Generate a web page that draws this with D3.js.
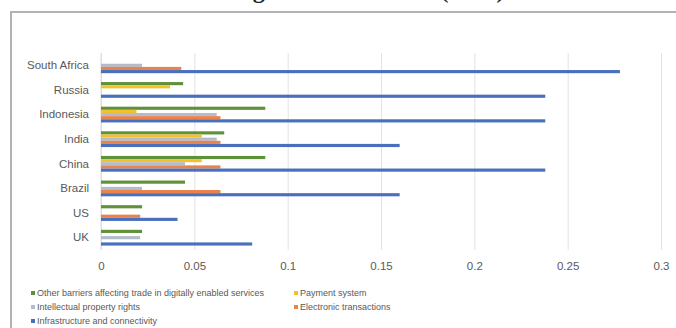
<!DOCTYPE html>
<html>
<head>
<meta charset="utf-8">
<script src="https://cdn.jsdelivr.net/npm/d3@7"></script>
<style>
  body { margin: 0; background: #fff; }
  svg { display: block; font-family: "Liberation Sans", Arial, sans-serif; }
</style>
</head>
<body>
<div class="chartContainer"></div>
<script>
// DATA (top to bottom as drawn)
var categories = ['South Africa', 'Russia', 'Indonesia', 'India', 'China', 'Brazil', 'US', 'UK']
var seriesNames = [
  'Other barriers affecting trade in digitally enabled services',
  'Payment system',
  'Intellectual property rights',
  'Electronic transactions',
  'Infrastructure and connectivity'
]
var otherBarriers = [0, 0.044, 0.088, 0.066, 0.088, 0.045, 0.022, 0.022]
var paymentSystem = [0, 0.037, 0.019, 0.054, 0.054, 0, 0, 0]
var intellectualProperty = [0.022, 0, 0.062, 0.062, 0.045, 0.022, 0, 0.021]
var electronicTransactions = [0.043, 0, 0.064, 0.064, 0.064, 0.064, 0.021, 0]
var infrastructure = [0.278, 0.238, 0.238, 0.16, 0.238, 0.16, 0.041, 0.081]
var xTicks = [0, 0.05, 0.1, 0.15, 0.2, 0.25, 0.3]
var titleText = 'Average Trade Barriers (2018)'

var seriesValues = [otherBarriers, paymentSystem, intellectualProperty, electronicTransactions, infrastructure]
var colors = ['#5f9138', '#f2c12e', '#b4bccb', '#e8834a', '#4a6fbd']

// SIZING
var width = 676
var height = 328
var plot = { left: 101, right: 661, top: 53, bottom: 250 }

var svg = d3
  .select('div.chartContainer')
  .append('svg')
  .attr('width', width)
  .attr('height', height)

// TITLE (only its lower edge shows, as in the source)
svg
  .append('text')
  .attr('x', 192)
  .attr('y', -2)
  .attr('font-family', '"Liberation Serif", serif')
  .attr('font-weight', 'bold')
  .attr('font-size', 24)
  .attr('fill', '#222')
  .text(titleText)

// CHART BOX
svg
  .append('path')
  .attr('d', 'M11,' + (height + 2) + 'V12H' + (width + 2))
  .attr('fill', 'none')
  .attr('stroke', '#b3b3b3')
  .attr('stroke-width', 2)

// SCALES
var x = d3
  .scaleLinear()
  .domain([0, 0.3])
  .range([plot.left, plot.right])

var y0 = d3
  .scaleBand()
  .domain(categories)
  .range([plot.top, plot.bottom])
  .paddingInner(0.36)
  .paddingOuter(0.18)

var y1 = d3
  .scaleBand()
  .domain(d3.range(seriesNames.length))
  .range([0, y0.bandwidth()])

// GRIDLINES
svg
  .append('g')
  .attr('class', 'grid')
  .attr('transform', 'translate(0,' + plot.bottom + ')')
  .call(d3.axisBottom(x).tickValues(xTicks).tickSize(-(plot.bottom - plot.top)).tickFormat(''))
  .call(function(g) { g.select('.domain').remove() })
  .selectAll('line')
  .attr('stroke', '#e3e3e3')

// VERTICAL AXIS LINE
svg
  .append('line')
  .attr('x1', x(0))
  .attr('x2', x(0))
  .attr('y1', plot.top)
  .attr('y2', plot.bottom)
  .attr('stroke', '#dcdcdc')

// BARS
var groups = svg
  .selectAll('g.category')
  .data(categories)
  .enter()
  .append('g')
  .attr('class', 'category')
  .attr('transform', function(d) { return 'translate(0,' + y0(d) + ')' })

groups
  .selectAll('rect')
  .data(function(d, i) {
    return seriesValues.map(function(vals, s) { return { s: s, value: vals[i] } })
  })
  .enter()
  .append('rect')
  .attr('x', x(0))
  .attr('y', function(d) { return y1(d.s) })
  .attr('width', function(d) { return x(d.value) - x(0) })
  .attr('height', y1.bandwidth())
  .attr('fill', function(d) { return colors[d.s] })

// CATEGORY LABELS
svg
  .append('g')
  .attr('transform', 'translate(' + (x(0) - 12) + ',0)')
  .call(d3.axisLeft(y0).tickSize(0).tickPadding(0))
  .call(function(g) { g.select('.domain').remove() })
  .selectAll('text')
  .attr('font-size', 11.5)
  .attr('font-family', '"Liberation Sans", Arial, sans-serif')
  .attr('fill', '#595959')

// X-AXIS LABELS
svg
  .append('g')
  .attr('transform', 'translate(0,' + plot.bottom + ')')
  .call(d3.axisBottom(x).tickValues(xTicks).tickSize(0).tickPadding(12).tickFormat(d3.format('')))
  .call(function(g) { g.select('.domain').remove() })
  .selectAll('text')
  .attr('font-size', 11.5)
  .attr('font-family', '"Liberation Sans", Arial, sans-serif')
  .attr('fill', '#595959')

// LEGEND
var legendPos = [[33, 293], [296, 293], [33, 307], [296, 307], [33, 321]]
var legend = svg
  .selectAll('g.legendItem')
  .data(seriesNames)
  .enter()
  .append('g')
  .attr('class', 'legendItem')
  .attr('transform', function(d, i) { return 'translate(' + legendPos[i][0] + ',' + legendPos[i][1] + ')' })

legend
  .append('rect')
  .attr('x', -2)
  .attr('y', -2)
  .attr('width', 4)
  .attr('height', 4)
  .attr('fill', function(d, i) { return colors[i] })

legend
  .append('text')
  .attr('x', 4)
  .attr('dy', '0.35em')
  .attr('font-size', 9)
  .attr('fill', '#595959')
  .text(function(d) { return d })
</script>
</body>
</html>
